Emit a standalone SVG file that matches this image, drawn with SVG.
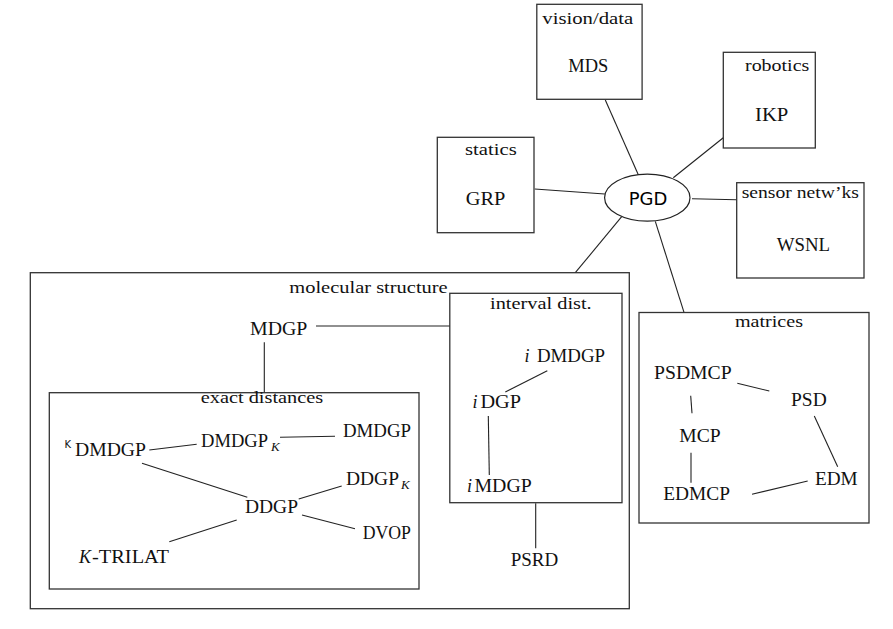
<svg xmlns="http://www.w3.org/2000/svg" width="893" height="629" viewBox="0 0 893 629">
<style>
text{font-size:18px;fill:#111}
.t{font-size:17px}
.it{font-style:italic}
.sub{font-style:italic;font-size:13px}
.pgd{font-size:18px;fill:#000}
.ks{font-size:10px}
.box{fill:none;stroke:#333;stroke-width:1.3}
.ln{stroke:#222;stroke-width:1.1;fill:none}
</style>
<rect width="893" height="629" fill="#fff"/>
<g id="connectors">
<line class="ln" x1="605.3" y1="100" x2="638.3" y2="174.7"/>
<line class="ln" x1="723.3" y1="137.7" x2="673.3" y2="177.7"/>
<line class="ln" x1="534.7" y1="189" x2="604.7" y2="194"/>
<line class="ln" x1="692" y1="198.7" x2="736.7" y2="199.7"/>
<line class="ln" x1="621.7" y1="216.7" x2="575.3" y2="272.7"/>
<line class="ln" x1="655.3" y1="221.3" x2="684" y2="312.3"/>
<line class="ln" x1="316" y1="326" x2="450" y2="326"/>
<line class="ln" x1="264.3" y1="342.3" x2="264.3" y2="392.7"/>
<line class="ln" x1="149.3" y1="450" x2="196.7" y2="444.3"/>
<line class="ln" x1="280" y1="437.3" x2="335" y2="436.3"/>
<line class="ln" x1="142" y1="463.3" x2="247.3" y2="497.3"/>
<line class="ln" x1="298.7" y1="499" x2="341.7" y2="486"/>
<line class="ln" x1="302" y1="515" x2="355" y2="528.7"/>
<line class="ln" x1="236.7" y1="520" x2="169.3" y2="541.7" stroke-width="1.6"/>
<line class="ln" x1="547.3" y1="370.7" x2="505.3" y2="392"/>
<line class="ln" x1="488.3" y1="416" x2="489.3" y2="475"/>
<line class="ln" x1="535.7" y1="503.3" x2="535.7" y2="548.3"/>
<line class="ln" x1="737.3" y1="383.3" x2="769.3" y2="391"/>
<line class="ln" x1="690.7" y1="395.7" x2="692" y2="413.3"/>
<line class="ln" x1="691" y1="452.7" x2="691" y2="482.7"/>
<line class="ln" x1="814.3" y1="416" x2="837.7" y2="466.7"/>
<line class="ln" x1="752" y1="494.3" x2="807.7" y2="481"/>
</g>
<g font-family="Liberation Serif, DejaVu Serif, serif">
<g id="vision">
<rect class="box" x="536.8" y="4.3" width="105.3" height="95"/>
<text class="t" x="542.3" y="24" textLength="91" lengthAdjust="spacingAndGlyphs">vision/data</text>
<text x="568.3" y="72" textLength="40" lengthAdjust="spacingAndGlyphs">MDS</text>
</g>
<g id="robotics">
<rect class="box" x="723.3" y="52.3" width="92" height="95.7"/>
<text class="t" x="745" y="71" textLength="64.3" lengthAdjust="spacingAndGlyphs">robotics</text>
<text x="755" y="121" textLength="33.3" lengthAdjust="spacingAndGlyphs">IKP</text>
</g>
<g id="statics">
<rect class="box" x="437.3" y="137.3" width="96.7" height="95.4"/>
<text class="t" x="465" y="155" textLength="51.7" lengthAdjust="spacingAndGlyphs">statics</text>
<text x="465.7" y="205" textLength="39.6" lengthAdjust="spacingAndGlyphs">GRP</text>
</g>
<g id="sensor">
<rect class="box" x="736.7" y="182.7" width="127.3" height="95.3"/>
<text class="t" x="741.7" y="198.3" textLength="117.3" lengthAdjust="spacingAndGlyphs">sensor netw’ks</text>
<text x="776.7" y="250.7" textLength="53.3" lengthAdjust="spacingAndGlyphs">WSNL</text>
</g>
<g id="pgd">
<ellipse cx="647.3" cy="197.7" rx="42.7" ry="23.5" fill="#fff" stroke="#222" stroke-width="1.2"/>
<text class="pgd" font-family="DejaVu Sans, sans-serif" x="648" y="204.5" text-anchor="middle">PGD</text>
</g>
<g id="molecular">
<rect class="box" x="30.3" y="272.7" width="599" height="336"/>
<text class="t" x="289.3" y="293.3" textLength="158.4" lengthAdjust="spacingAndGlyphs">molecular structure</text>
</g>
<g id="mdgp">
<text x="250" y="335" textLength="57.3" lengthAdjust="spacingAndGlyphs">MDGP</text>
</g>
<g id="exact">
<rect class="box" x="49.3" y="392.7" width="369.7" height="196.3"/>
<text class="t" x="200.7" y="402.7" textLength="122.6" lengthAdjust="spacingAndGlyphs">exact distances</text>
</g>
<g id="kdmdgp">
<text><tspan class="ks" font-family="DejaVu Sans, sans-serif" x="64.5" y="448">K</tspan><tspan x="75" y="456" textLength="71" lengthAdjust="spacingAndGlyphs">DMDGP</tspan></text>
</g>
<g id="dmdgpk">
<text><tspan x="201" y="446.7" textLength="67" lengthAdjust="spacingAndGlyphs">DMDGP</tspan><tspan class="sub" x="271" y="450.5">K</tspan></text>
</g>
<g id="dmdgp">
<text x="343" y="437" textLength="68" lengthAdjust="spacingAndGlyphs">DMDGP</text>
</g>
<g id="ddgpk">
<text><tspan x="346" y="485" textLength="53" lengthAdjust="spacingAndGlyphs">DDGP</tspan><tspan class="sub" x="401" y="489">K</tspan></text>
</g>
<g id="ddgp">
<text x="245" y="513" textLength="53" lengthAdjust="spacingAndGlyphs">DDGP</text>
</g>
<g id="dvop">
<text x="362.7" y="539" textLength="48.3" lengthAdjust="spacingAndGlyphs">DVOP</text>
</g>
<g id="ktrilat">
<text><tspan class="it" x="79" y="562.7">K</tspan><tspan x="92" y="562.7" textLength="77" lengthAdjust="spacingAndGlyphs">-TRILAT</tspan></text>
</g>
<g id="interval">
<rect class="box" x="449.8" y="293.3" width="172.2" height="209.4"/>
<text class="t" x="490" y="309.3" textLength="101.7" lengthAdjust="spacingAndGlyphs">interval dist.</text>
</g>
<g id="idmdgp">
<text><tspan class="it" x="524.5" y="361.7">i</tspan><tspan x="537" y="361.7" textLength="68" lengthAdjust="spacingAndGlyphs">DMDGP</tspan></text>
</g>
<g id="idgp">
<text><tspan class="it" x="472.5" y="408.3">i</tspan><tspan x="480.5" y="408.3" textLength="40.5" lengthAdjust="spacingAndGlyphs">DGP</tspan></text>
</g>
<g id="imdgp">
<text><tspan class="it" x="467" y="491.7">i</tspan><tspan x="474.5" y="491.7" textLength="57.2" lengthAdjust="spacingAndGlyphs">MDGP</tspan></text>
</g>
<g id="psrd">
<text x="510.7" y="566" textLength="47.6" lengthAdjust="spacingAndGlyphs">PSRD</text>
</g>
<g id="matrices">
<rect class="box" x="639" y="312.5" width="230" height="210.5"/>
<text class="t" x="735" y="327" textLength="68" lengthAdjust="spacingAndGlyphs">matrices</text>
</g>
<g id="psdmcp">
<text x="654" y="379" textLength="77.7" lengthAdjust="spacingAndGlyphs">PSDMCP</text>
</g>
<g id="psd">
<text x="791" y="406" textLength="35.7" lengthAdjust="spacingAndGlyphs">PSD</text>
</g>
<g id="mcp">
<text x="679.3" y="442.3" textLength="41.4" lengthAdjust="spacingAndGlyphs">MCP</text>
</g>
<g id="edmcp">
<text x="663.3" y="500" textLength="66.7" lengthAdjust="spacingAndGlyphs">EDMCP</text>
</g>
<g id="edm">
<text x="815" y="485" textLength="42.7" lengthAdjust="spacingAndGlyphs">EDM</text>
</g>
</g>
</svg>
